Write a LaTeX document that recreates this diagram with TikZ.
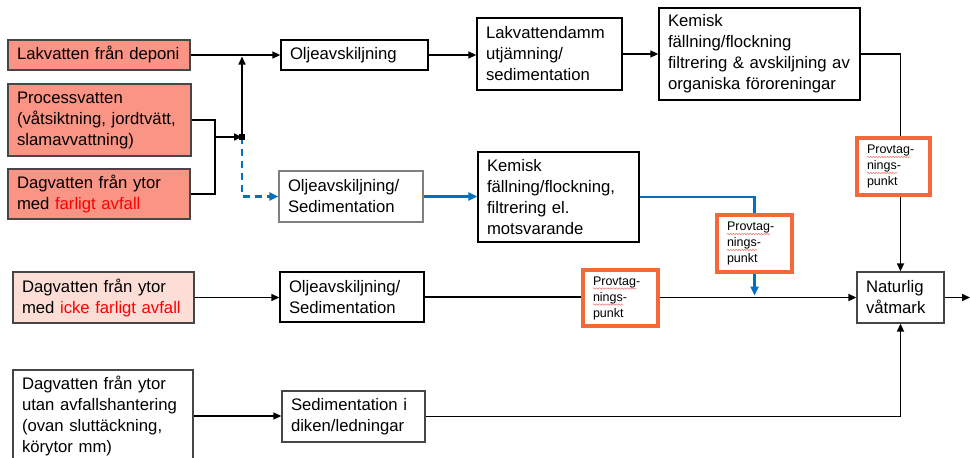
\documentclass[tikz,border=0pt]{standalone}
\usepackage{fontspec}
\setmainfont{Liberation Sans}
\usetikzlibrary{arrows.meta,decorations.pathmorphing,calc}
\definecolor{salmon}{RGB}{250,148,132}
\definecolor{lightpink}{RGB}{253,222,215}
\definecolor{provorange}{RGB}{244,104,58}
\definecolor{flowblue}{RGB}{0,112,192}
\definecolor{boxgray}{RGB}{70,70,70}
\definecolor{squigred}{RGB}{240,130,130}
\tikzset{
  box/.style={draw=boxgray, line width=1.3pt, align=left, inner xsep=9pt, inner ysep=0pt,
    font=\fontsize{16.7}{21}\selectfont},
  srcbox/.style={box, fill=salmon},
  srclight/.style={box, fill=lightpink},
  provbox/.style={draw=provorange, line width=3.2pt, align=left, inner xsep=10pt, inner ysep=0pt,
    font=\fontsize{12.5}{16}\selectfont},
  conn/.style={line width=1.6pt, black},
  arr/.style={conn, -{Triangle[length=8pt,width=7pt]}},
  bluearr/.style={line width=2.3pt, flowblue, -{Triangle[length=9pt,width=8pt]}},
  blueline/.style={line width=2.3pt, flowblue},
  squig/.style={squigred, line width=0.6pt, decorate, decoration={snake,amplitude=0.7pt,segment length=2.8pt}},
}
\begin{document}
\begin{tikzpicture}[x=1pt,y=-1pt]
\useasboundingbox (0,0) rectangle (970,458);
\clip (0,0) rectangle (970,458);

% sources
\node[srcbox, minimum width=182, minimum height=30, text width=164] (lak) at (99,55) {Lakvatten från deponi};
\node[srcbox, minimum width=183, minimum height=72, text width=165] (proc) at (99.5,120) {Processvatten\\(våtsiktning, jordtvätt,\\slamavvattning)};
\node[srcbox, minimum width=182, minimum height=50, text width=164] (dagf) at (99,194) {Dagvatten från ytor\\med \textcolor{red}{farligt avfall}};
\node[srclight, minimum width=181, minimum height=51, text width=163] (dagi) at (103.5,297.5) {Dagvatten från ytor\\med \textcolor{red}{icke farligt avfall}};
\node[box, minimum width=180, minimum height=92, text width=162] (dagu) at (103,416) {Dagvatten från ytor\\utan avfallshantering\\(ovan sluttäckning,\\körytor mm)};

% process boxes
\node[box, draw=black, minimum width=147, minimum height=30, text width=129] (olje1) at (354.5,55) {Oljeavskiljning};
\node[box, draw=black, minimum width=145, minimum height=72, text width=127] (lakd) at (549.5,54) {Lakvattendamm\\utjämning/\\sedimentation};
\node[box, draw=black, minimum width=201, minimum height=92, text width=183] (kem1) at (759.5,54) {Kemisk\\fällning/flockning\\filtrering \& avskiljning av\\organiska föroreningar};
\node[box, draw=gray, minimum width=144, minimum height=51, text width=126] (olje2) at (351,196.5) {Oljeavskiljning/\\Sedimentation};
\node[box, draw=black, minimum width=161, minimum height=90, text width=143] (kem2) at (558.5,197) {Kemisk\\fällning/flockning,\\filtrering el.\\motsvarande};
\node[box, draw=black, minimum width=144, minimum height=50, text width=126] (olje3) at (352,297) {Oljeavskiljning/\\Sedimentation};
\node[box, draw=boxgray, minimum width=143, minimum height=51, text width=125] (sed) at (353.5,416.5) {Sedimentation i\\diken/ledningar};
\node[box, draw=boxgray, minimum width=87, minimum height=51, text width=69] (nat) at (900.5,297.5) {Naturlig\\våtmark};

% sampling points
\node[provbox, minimum width=75, minimum height=56, text width=55] (pl) at (620.5,298) {Provtag-\\nings-\\punkt};
\node[provbox, minimum width=75, minimum height=57, text width=55] (pm) at (754.5,243.5) {Provtag-\\nings-\\punkt};
\node[provbox, minimum width=73, minimum height=57, text width=53] (pr) at (893.5,166.5) {Provtag-\\nings-\\punkt};

% spell-check squiggles
\foreach \n/\h in {pl/27.5, pm/27.5, pr/26.5} {
  \draw[squig] ($(\n.center)+(-\h,-9.5)$) -- ++(43,0);
  \draw[squig] ($(\n.center)+(-\h,6.5)$) -- ++(30,0);
}

% junction
\coordinate (m) at (215,137);
\coordinate (j) at (242,137);
\coordinate (out) at (970,297.5);

\draw[conn] (proc.east) -| (m);
\draw[conn] (dagf.east) -| (m);
\draw[arr] (m) -- (j);
\draw[arr, shorten >=1.5pt] (j) -- (j |- lak.east);
\draw[arr] (lak.east) -- (olje1.west);
\draw[line width=2.3pt, flowblue, dash pattern=on 7pt off 5pt, -{Triangle[length=9pt,width=8pt]}] (j) |- (olje2.west);
\fill (j) ++(-3,-3) rectangle ++(6,6);

% top row
\draw[arr] (olje1.east) -- (lakd.west |- olje1.east);
\draw[arr] (lakd.east) -- (kem1.west |- lakd.east);
\draw[conn] (kem1.east) -| (pr.north -| nat.north);
\draw[arr] (pr.south -| nat.north) -- (nat.north);

% blue row
\draw[bluearr] (olje2.east) -- (kem2.west |- olje2.east);
\draw[blueline] (kem2.east) -| (pm.north);
\draw[bluearr, shorten >=1.5pt] (pm.south) -- (pm.south |- olje3.east);

% third row
\draw[arr] (dagi.east) -- (olje3.west |- dagi.east);
\draw[conn] (olje3.east) -- (pl.west |- olje3.east);
\draw[arr] (pl.east |- nat.west) -- (nat.west);
\draw[arr] (nat.east) -- (out);

% fourth row
\draw[arr] (dagu.east) -- (sed.west |- dagu.east);
\draw[arr] (sed.east) -| (nat.south);
\end{tikzpicture}
\end{document}
